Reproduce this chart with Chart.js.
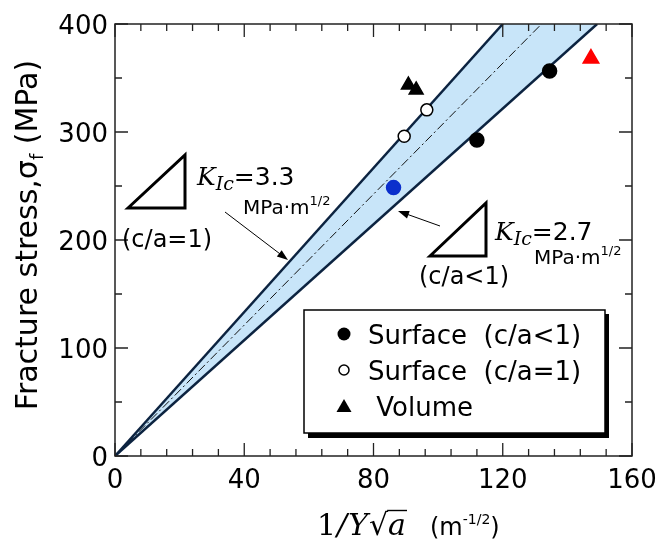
<!DOCTYPE html>
<html>
<head>
<meta charset="utf-8">
<script src="https://cdn.jsdelivr.net/npm/chart.js@4"></script>
<style>
  html, body { margin: 0; background: #fff; }
</style>
</head>
<body>
<canvas id="chart" width="656" height="543"></canvas>
<script>
// --- DATA ---
const surfaceLtX = [112, 134.5];          // filled circles, c/a<1
const surfaceLtY = [292.5, 356.5];
const blueX = [86.2];                      // highlighted surface point
const blueY = [248.5];
const surfaceEqX = [89.5, 96.5];           // open circles, c/a=1
const surfaceEqY = [296, 320.5];
const volumeX = [90.8, 93.2];              // black triangles
const volumeY = [343.5, 339];
const redX = [147.3];                      // red triangle
const redY = [368];

// K_Ic lines, from the origin to where they leave the top of the plot
const upperX = [0, 120];   const upperY = [0, 400];   // K_Ic = 3.3
const lowerX = [0, 149.2]; const lowerY = [0, 400];   // K_Ic = 2.7
const midX = [0, 132];     const midY = [0, 400];

const xLabels = [0, 40, 80, 120, 160];
const yLabels = [0, 100, 200, 300, 400];
const legendLabels = ['Surface  (c/a<1)', 'Surface  (c/a=1)', ' Volume'];

const SANS = '"DejaVu Sans", Arial, sans-serif';
const SERIF = '"DejaVu Serif", "Liberation Serif", serif';
const NAVY = '#0c2340';

const pts = (xs, ys) => xs.map((x, i) => ({ x: x, y: ys[i] }));

// --- helpers ---
function txt(ctx, s, x, y, size, o) {
    o = o || {};
    ctx.save();
    ctx.font = (o.style || '') + ' ' + size + 'px ' + (o.family || SANS);
    ctx.textAlign = o.align || 'left';
    ctx.textBaseline = o.base || 'alphabetic';
    ctx.fillStyle = o.color || '#000';
    ctx.fillText(s, x, y);
    const w = ctx.measureText(s).width;
    ctx.restore();
    return w;
}

function arrow(ctx, x1, y1, x2, y2) {
    const a = Math.atan2(y2 - y1, x2 - x1);
    ctx.save();
    ctx.strokeStyle = '#000';
    ctx.lineWidth = 1;
    ctx.beginPath();
    ctx.moveTo(x1, y1);
    ctx.lineTo(x2 - 8 * Math.cos(a), y2 - 8 * Math.sin(a));
    ctx.stroke();
    ctx.beginPath();
    ctx.moveTo(x2, y2);
    ctx.lineTo(x2 - 11 * Math.cos(a) + 4 * Math.sin(a), y2 - 11 * Math.sin(a) - 4 * Math.cos(a));
    ctx.lineTo(x2 - 11 * Math.cos(a) - 4 * Math.sin(a), y2 - 11 * Math.sin(a) + 4 * Math.cos(a));
    ctx.closePath();
    ctx.fillStyle = '#000';
    ctx.fill();
    ctx.restore();
}

function slopeTriangle(ctx, x1, y1, x2, y2) {
    ctx.save();
    ctx.lineWidth = 3;
    ctx.strokeStyle = '#000';
    ctx.lineJoin = 'miter';
    ctx.beginPath();
    ctx.moveTo(x1, y2);
    ctx.lineTo(x2, y1);
    ctx.lineTo(x2, y2);
    ctx.closePath();
    ctx.stroke();
    ctx.restore();
}

function kLabel(ctx, x, y, val) {
    let cx = x;
    cx += txt(ctx, 'K', cx, y, 25, { style: 'italic', family: SERIF });
    cx += txt(ctx, 'Ic', cx, y + 5, 19, { style: 'italic', family: SERIF });
    txt(ctx, '=' + val, cx, y, 25);
}

function unitLabel(ctx, x, y) {
    let cx = x;
    cx += txt(ctx, 'MPa·m', cx, y, 20);
    txt(ctx, '1/2', cx, y - 9, 13);
}

// --- frame, inward ticks, tick labels ---
const framePlugin = {
    id: 'frame',
    afterDatasetsDraw(chart) {
        const ctx = chart.ctx, ca = chart.chartArea;
        const xs = chart.scales.x, ys = chart.scales.y;
        ctx.save();
        ctx.strokeStyle = '#222';
        ctx.lineWidth = 1.5;
        ctx.strokeRect(ca.left, ca.top, ca.right - ca.left, ca.bottom - ca.top);
        ctx.lineWidth = 1.3;
        ctx.beginPath();
        xs.ticks.forEach(t => {
            const px = xs.getPixelForValue(t.value);
            const len = xLabels.includes(t.value) ? 13 : 7;
            ctx.moveTo(px, ca.bottom); ctx.lineTo(px, ca.bottom - len);
            ctx.moveTo(px, ca.top); ctx.lineTo(px, ca.top + len);
        });
        ys.ticks.forEach(t => {
            const py = ys.getPixelForValue(t.value);
            const len = yLabels.includes(t.value) ? 13 : 7;
            ctx.moveTo(ca.left, py); ctx.lineTo(ca.left + len, py);
            ctx.moveTo(ca.right, py); ctx.lineTo(ca.right - len, py);
        });
        ctx.stroke();
        ctx.restore();

        xLabels.forEach(v => {
            txt(ctx, String(v), xs.getPixelForValue(v), 488, 26, { align: 'center' });
        });
        yLabels.forEach(v => {
            txt(ctx, String(v), 108, ys.getPixelForValue(v) + 9.5, 26, { align: 'right' });
        });
    },
    afterDraw(chart) {
        const ctx = chart.ctx;

        // y axis title
        ctx.save();
        ctx.translate(37, 235);
        ctx.rotate(-Math.PI / 2);
        const parts = [['Fracture stress,', 30, 0], ['σ', 30, 0], ['f', 18, 6], [' (MPa)', 30, 0]];
        let total = 0;
        parts.forEach(p => { ctx.font = p[1] + 'px ' + SANS; total += ctx.measureText(p[0]).width; });
        let cx = -total / 2;
        parts.forEach(p => { cx += txt(ctx, p[0], cx, p[2], p[1]); });
        ctx.restore();

        // x axis title
        let x = 317;
        x += txt(ctx, '1', x, 535, 30, { family: SERIF }) + 1;
        x += txt(ctx, '/', x, 535, 30, { style: 'italic', family: SERIF }) + 1;
        x += txt(ctx, 'Y', x, 535, 30, { style: 'italic', family: SERIF }) + 1;
        x += txt(ctx, '√', x, 535, 30, { family: SERIF });
        const aw = txt(ctx, 'a', x, 535, 30, { style: 'italic', family: SERIF });
        ctx.save();
        ctx.lineWidth = 1.4;
        ctx.beginPath();
        ctx.moveTo(x - 1, 510.5); ctx.lineTo(x + aw + 1, 510.5);
        ctx.stroke();
        ctx.restore();
        x = 430;
        x += txt(ctx, '(m', x, 535, 24);
        x += txt(ctx, '-1/2', x, 524, 14);
        txt(ctx, ')', x, 535, 24);

        // annotation: K_Ic = 3.3 (c/a=1)
        slopeTriangle(ctx, 128, 155, 185, 208);
        kLabel(ctx, 197, 185, '3.3');
        unitLabel(ctx, 243, 214);
        txt(ctx, '(c/a=1)', 122, 247, 24);
        arrow(ctx, 225, 212, 288, 260);

        // annotation: K_Ic = 2.7 (c/a<1)
        slopeTriangle(ctx, 430, 203, 486, 256);
        kLabel(ctx, 495, 240, '2.7');
        unitLabel(ctx, 534, 264);
        txt(ctx, '(c/a<1)', 419, 284, 24);
        arrow(ctx, 440, 226, 398, 211);

        // legend box with drop shadow
        ctx.save();
        ctx.fillStyle = '#000';
        ctx.fillRect(308, 314, 301, 124);
        ctx.fillStyle = '#fff';
        ctx.fillRect(304, 310, 301, 123);
        ctx.strokeStyle = '#000';
        ctx.lineWidth = 1.5;
        ctx.strokeRect(304, 310, 301, 123);
        // markers
        ctx.beginPath(); ctx.arc(344, 334, 6.5, 0, Math.PI * 2); ctx.fillStyle = '#000'; ctx.fill();
        ctx.beginPath(); ctx.arc(344, 370, 5, 0, Math.PI * 2); ctx.lineWidth = 1.5; ctx.stroke();
        ctx.beginPath(); ctx.moveTo(344, 399); ctx.lineTo(351.5, 412); ctx.lineTo(336.5, 412); ctx.closePath(); ctx.fill();
        ctx.restore();
        const rowsY = [334, 370, 406];
        legendLabels.forEach((s, i) => txt(ctx, s, 368, rowsY[i] + 10, 26));
    }
};

// --- CHART ---
const markerBase = { showLine: false, order: 0, borderWidth: 1.5 };
new Chart(document.getElementById('chart'), {
    type: 'line',
    data: {
        datasets: [
            Object.assign({ label: 'Surface (c/a<1)', data: pts(surfaceLtX, surfaceLtY), pointStyle: 'circle', pointRadius: 7, pointBackgroundColor: '#000', pointBorderColor: '#000' }, markerBase),
            Object.assign({ label: 'blue', data: pts(blueX, blueY), pointStyle: 'circle', pointRadius: 7, pointBackgroundColor: '#0b2fcc', pointBorderColor: '#0b2fcc' }, markerBase),
            Object.assign({ label: 'Surface (c/a=1)', data: pts(surfaceEqX, surfaceEqY), pointStyle: 'circle', pointRadius: 6, pointBackgroundColor: '#fff', pointBorderColor: '#000' }, markerBase),
            Object.assign({ label: 'Volume', data: pts(volumeX, volumeY), pointStyle: 'triangle', pointRadius: 8, pointBackgroundColor: '#000', pointBorderColor: '#000' }, markerBase),
            Object.assign({ label: 'red', data: pts(redX, redY), pointStyle: 'triangle', pointRadius: 9, pointBackgroundColor: '#ff0000', pointBorderColor: '#ff0000' }, markerBase),
            { label: 'K3.3', data: pts(upperX, upperY), borderColor: NAVY, borderWidth: 2.5, pointRadius: 0, order: 1 },
            { label: 'K2.7', data: pts(lowerX, lowerY), borderColor: NAVY, borderWidth: 2.5, pointRadius: 0, order: 1 },
            { label: 'mid', data: pts(midX, midY), borderColor: '#111', borderWidth: 1, borderDash: [9, 3, 2, 3], pointRadius: 0, order: 1 },
            { label: 'band', data: pts(upperX, upperY).concat([{ x: lowerX[1], y: lowerY[1] }]), borderWidth: 0, borderColor: 'rgba(0,0,0,0)', backgroundColor: '#c8e5f9', pointRadius: 0, fill: 6, order: 2 }
        ]
    },
    options: {
        responsive: false,
        animation: false,
        devicePixelRatio: 1,
        layout: { padding: { top: 24, right: 24, left: 0, bottom: 0 } },
        plugins: { legend: { display: false }, tooltip: { enabled: false } },
        scales: {
            x: {
                type: 'linear', min: 0, max: 160,
                ticks: { display: false, stepSize: 8 },
                grid: { display: false }, border: { display: false },
                afterFit(s) { s.height = 87; }
            },
            y: {
                type: 'linear', min: 0, max: 400,
                ticks: { display: false, stepSize: 50 },
                grid: { display: false }, border: { display: false },
                afterFit(s) { s.width = 115; }
            }
        }
    },
    plugins: [framePlugin]
});
</script>
</body>
</html>
